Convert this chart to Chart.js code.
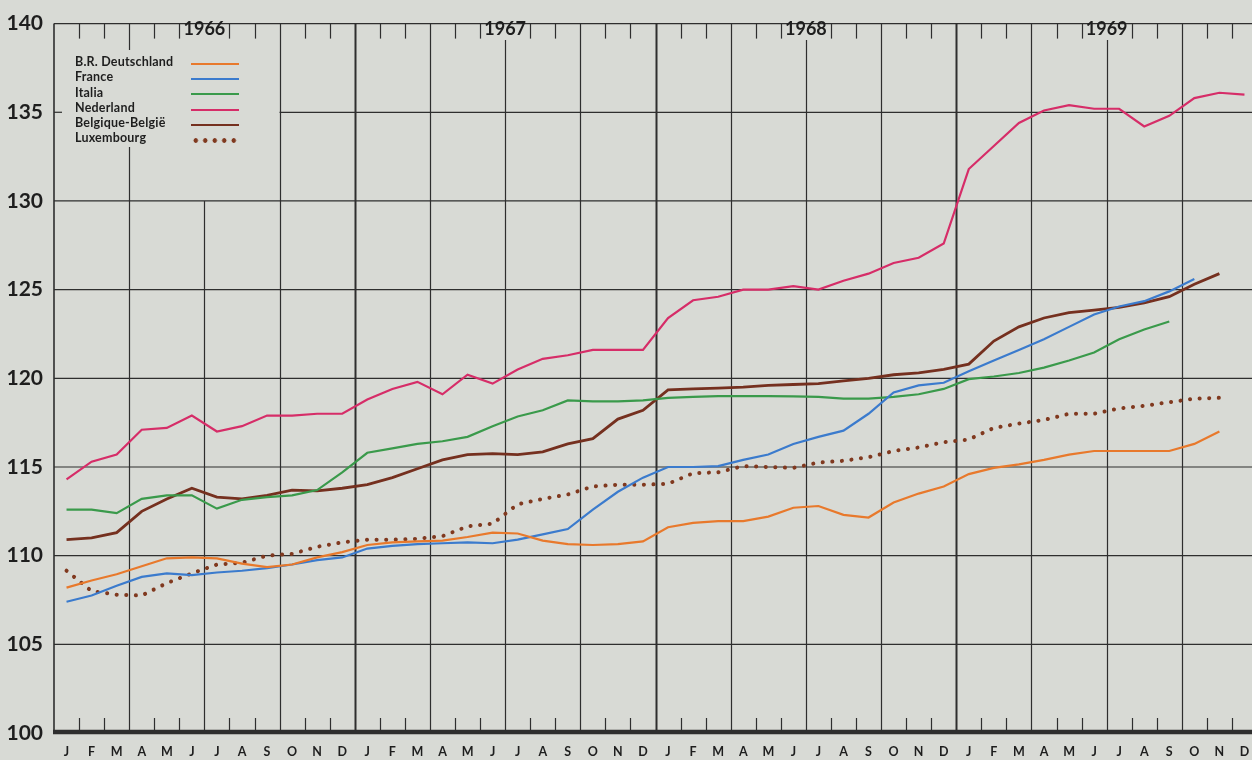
<!DOCTYPE html>
<html>
<head>
<meta charset="utf-8">
<script src="https://cdn.jsdelivr.net/npm/chart.js@4.4.1/dist/chart.umd.min.js"></script>
<style>
  html, body { margin: 0; padding: 0; background: #d8dad5; overflow: hidden; }
  #wrap { position: relative; width: 1262px; height: 760px; }
  #legend { position: absolute; left: 75px; top: 54px; font-family: Lato, 'DejaVu Sans', sans-serif;
            font-weight: 700; font-size: 12.5px; color: #1e1e1e; letter-spacing: 0.2px; }
  .row { position: relative; height: 15.3px; line-height: 15.3px; white-space: nowrap; }
  .row .sw { position: absolute; left: 116px; width: 48px; }
</style>
</head>
<body>
<div id="wrap">
  <canvas id="chart" width="1262" height="760"></canvas>
  <div id="legend"></div>
</div>
<script>
// month letters and years
const monthLetters = ['J', 'F', 'M', 'A', 'M', 'J', 'J', 'A', 'S', 'O', 'N', 'D'];
const years = ['1966', '1967', '1968', '1969'];
const monthLabels = years.flatMap(() => monthLetters);

// index values, Jan 1966 onwards
const deutschland = [108.2, 108.6, 108.95, 109.4, 109.85, 109.9, 109.85, 109.55, 109.35, 109.5, 109.9, 110.2,
  110.6, 110.75, 110.8, 110.85, 111.05, 111.3, 111.25, 110.85, 110.65, 110.6, 110.65, 110.8,
  111.6, 111.85, 111.95, 111.95, 112.2, 112.7, 112.8, 112.3, 112.15, 113.0, 113.5, 113.9,
  114.6, 114.95, 115.15, 115.4, 115.7, 115.9, 115.9, 115.9, 115.9, 116.3, 117.0];
const france = [107.4, 107.75, 108.3, 108.8, 109.0, 108.9, 109.05, 109.15, 109.3, 109.5, 109.75, 109.9,
  110.4, 110.55, 110.65, 110.7, 110.75, 110.7, 110.9, 111.2, 111.5, 112.6, 113.6, 114.4,
  115.0, 115.0, 115.05, 115.4, 115.7, 116.3, 116.7, 117.05, 118.0, 119.2, 119.6, 119.75,
  120.4, 121.0, 121.6, 122.2, 122.9, 123.6, 124.05, 124.35, 124.9, 125.6];
const italia = [112.6, 112.6, 112.4, 113.2, 113.4, 113.4, 112.65, 113.15, 113.3, 113.4, 113.7, 114.7,
  115.8, 116.05, 116.3, 116.45, 116.7, 117.3, 117.85, 118.2, 118.75, 118.7, 118.7, 118.75,
  118.9, 118.95, 119.0, 119.0, 119.0, 118.98, 118.95, 118.85, 118.85, 118.95, 119.1, 119.4,
  119.95, 120.1, 120.3, 120.6, 121.0, 121.45, 122.2, 122.75, 123.2];
const nederland = [114.3, 115.3, 115.7, 117.1, 117.2, 117.9, 117.0, 117.3, 117.9, 117.9, 118.0, 118.0,
  118.8, 119.4, 119.8, 119.1, 120.2, 119.7, 120.5, 121.1, 121.3, 121.6, 121.6, 121.6,
  123.4, 124.4, 124.6, 125.0, 125.0, 125.2, 125.0, 125.5, 125.9, 126.5, 126.8, 127.6,
  131.8, 133.1, 134.4, 135.1, 135.4, 135.2, 135.2, 134.2, 134.8, 135.8, 136.1, 136.0];
const belgique = [110.9, 111.0, 111.3, 112.5, 113.2, 113.8, 113.3, 113.2, 113.4, 113.7, 113.65, 113.8,
  114.0, 114.4, 114.9, 115.4, 115.7, 115.75, 115.7, 115.85, 116.3, 116.6, 117.7, 118.2,
  119.35, 119.4, 119.45, 119.5, 119.6, 119.65, 119.7, 119.85, 120.0, 120.2, 120.3, 120.5,
  120.8, 122.1, 122.9, 123.4, 123.7, 123.85, 124.0, 124.25, 124.6, 125.3, 125.9];
const luxembourg = [109.15, 108.0, 107.8, 107.75, 108.45, 109.0, 109.5, 109.6, 110.0, 110.1, 110.5, 110.75,
  110.9, 110.9, 110.95, 111.1, 111.65, 111.8, 112.9, 113.2, 113.45, 113.9, 114.0, 114.0,
  114.05, 114.65, 114.7, 115.05, 115.0, 114.95, 115.25, 115.35, 115.55, 115.9, 116.1, 116.4,
  116.55, 117.2, 117.45, 117.65, 118.0, 118.0, 118.3, 118.45, 118.65, 118.85, 118.9];

const ink = '#1e1e1e';
const font = "Lato, 'DejaVu Sans', sans-serif";

// paper grid: quarter lines, month ticks, year labels
const paperGrid = {
  id: 'paperGrid',
  beforeDatasetsDraw(chart) {
    const {ctx, chartArea: a, scales: {y}} = chart;
    const bx = k => a.left + (a.right - a.left) * k / 48;
    ctx.save();
    ctx.strokeStyle = '#2e2e2e';
    const line = (x1, y1, x2, y2, w) => {
      ctx.lineWidth = w;
      ctx.beginPath(); ctx.moveTo(x1, y1); ctx.lineTo(x2, y2); ctx.stroke();
    };
    // horizontal lines
    [105, 110, 115, 120, 125, 130].forEach(v => line(a.left, y.getPixelForValue(v), a.right, y.getPixelForValue(v), 1.2));
    const y135 = y.getPixelForValue(135);
    line(bx(9), y135, a.right, y135, 1.2);
    line(a.left, y135, a.left + 8, y135, 1.2);
    line(a.left, a.top, a.right, a.top, 1.2);

    // vertical lines and ticks
    for (let k = 1; k < 48; k++) {
      const x = Math.round(bx(k)) + 0.5;
      if (k % 12 === 0) {
        line(x, a.top, x, a.bottom, 2);
      } else if (k % 3 === 0) {
        if (k === 3) {
          line(x, a.top, x, 50, 1.2);
          line(x, 147, x, a.bottom, 1.2);
        } else if (k === 6) {
          line(x, y.getPixelForValue(130), x, a.bottom, 1.2);
        } else if (k % 12 === 6) {
          line(x, 40, x, a.bottom, 1.2);
        } else {
          line(x, a.top, x, a.bottom, 1.2);
        }
      } else {
        line(x, a.top, x, a.top + 15, 1.2);
        line(x, a.bottom - 15, x, a.bottom, 1.2);
      }
    }
    // axes
    line(a.left, a.top, a.left, a.bottom, 1.6);
    line(a.left - 1, a.bottom - 1, a.right, a.bottom - 1, 4.5);

    // year labels
    ctx.fillStyle = ink;
    ctx.font = 'bold 18px ' + font;
    ctx.textAlign = 'center';
    ctx.textBaseline = 'middle';
    years.forEach((yr, i) => ctx.fillText(yr, bx(12 * i + 6), 29));
    ctx.restore();
  }
};

const ctx = document.getElementById('chart').getContext('2d');
const chart = new Chart(ctx, {
  type: 'line',
  data: {
    labels: monthLabels,
    datasets: [
      { label: 'B.R. Deutschland', data: deutschland, borderColor: '#e8792c', borderWidth: 2.2 },
      { label: 'France', data: france, borderColor: '#3b7bcd', borderWidth: 2.2 },
      { label: 'Italia', data: italia, borderColor: '#3a9a4b', borderWidth: 2.2 },
      { label: 'Nederland', data: nederland, borderColor: '#d62d68', borderWidth: 2.2 },
      { label: 'Belgique-België', data: belgique, borderColor: '#75301f', borderWidth: 2.8 },
      { label: 'Luxembourg', data: luxembourg, borderColor: '#80391f', borderWidth: 4,
        borderDash: [0.1, 9.5], borderCapStyle: 'round' }
    ]
  },
  options: {
    responsive: false,
    animation: false,
    devicePixelRatio: 1,
    layout: { padding: { top: 16, right: 5, left: 0, bottom: 0 } },
    elements: { point: { radius: 0 }, line: { tension: 0, fill: false } },
    plugins: { legend: { display: false }, tooltip: { enabled: false } },
    scales: {
      x: {
        offset: true,
        grid: { display: false, drawTicks: false, tickLength: 0 },
        border: { display: false },
        ticks: { autoSkip: false, maxRotation: 0, padding: 11, color: ink,
                 font: { family: font, weight: 'bold', size: 12.5 } },
        afterFit: s => { s.height = 27; }
      },
      y: {
        min: 100,
        max: 140,
        grid: { display: false, drawTicks: false, tickLength: 0 },
        border: { display: false },
        ticks: { stepSize: 5, padding: 11, color: ink,
                 font: { family: font, weight: 'bold', size: 21 } },
        afterFit: s => { s.width = 54; }
      }
    }
  },
  plugins: [paperGrid]
});

// legend: label text then a line sample
const legend = document.getElementById('legend');
chart.data.datasets.forEach(ds => {
  const row = document.createElement('div');
  row.className = 'row';
  row.textContent = ds.label;
  const sw = document.createElement('span');
  sw.className = 'sw';
  if (ds.borderDash) {
    sw.style.top = '8px';
    sw.style.height = '5px';
    sw.style.background = 'radial-gradient(circle, ' + ds.borderColor + ' 2px, transparent 2.6px) 0 0 / 9.5px 5px repeat-x';
  } else {
    sw.style.top = (10 - ds.borderWidth / 2) + 'px';
    sw.style.borderTop = ds.borderWidth + 'px solid ' + ds.borderColor;
  }
  row.appendChild(sw);
  legend.appendChild(row);
});
</script>
</body>
</html>
